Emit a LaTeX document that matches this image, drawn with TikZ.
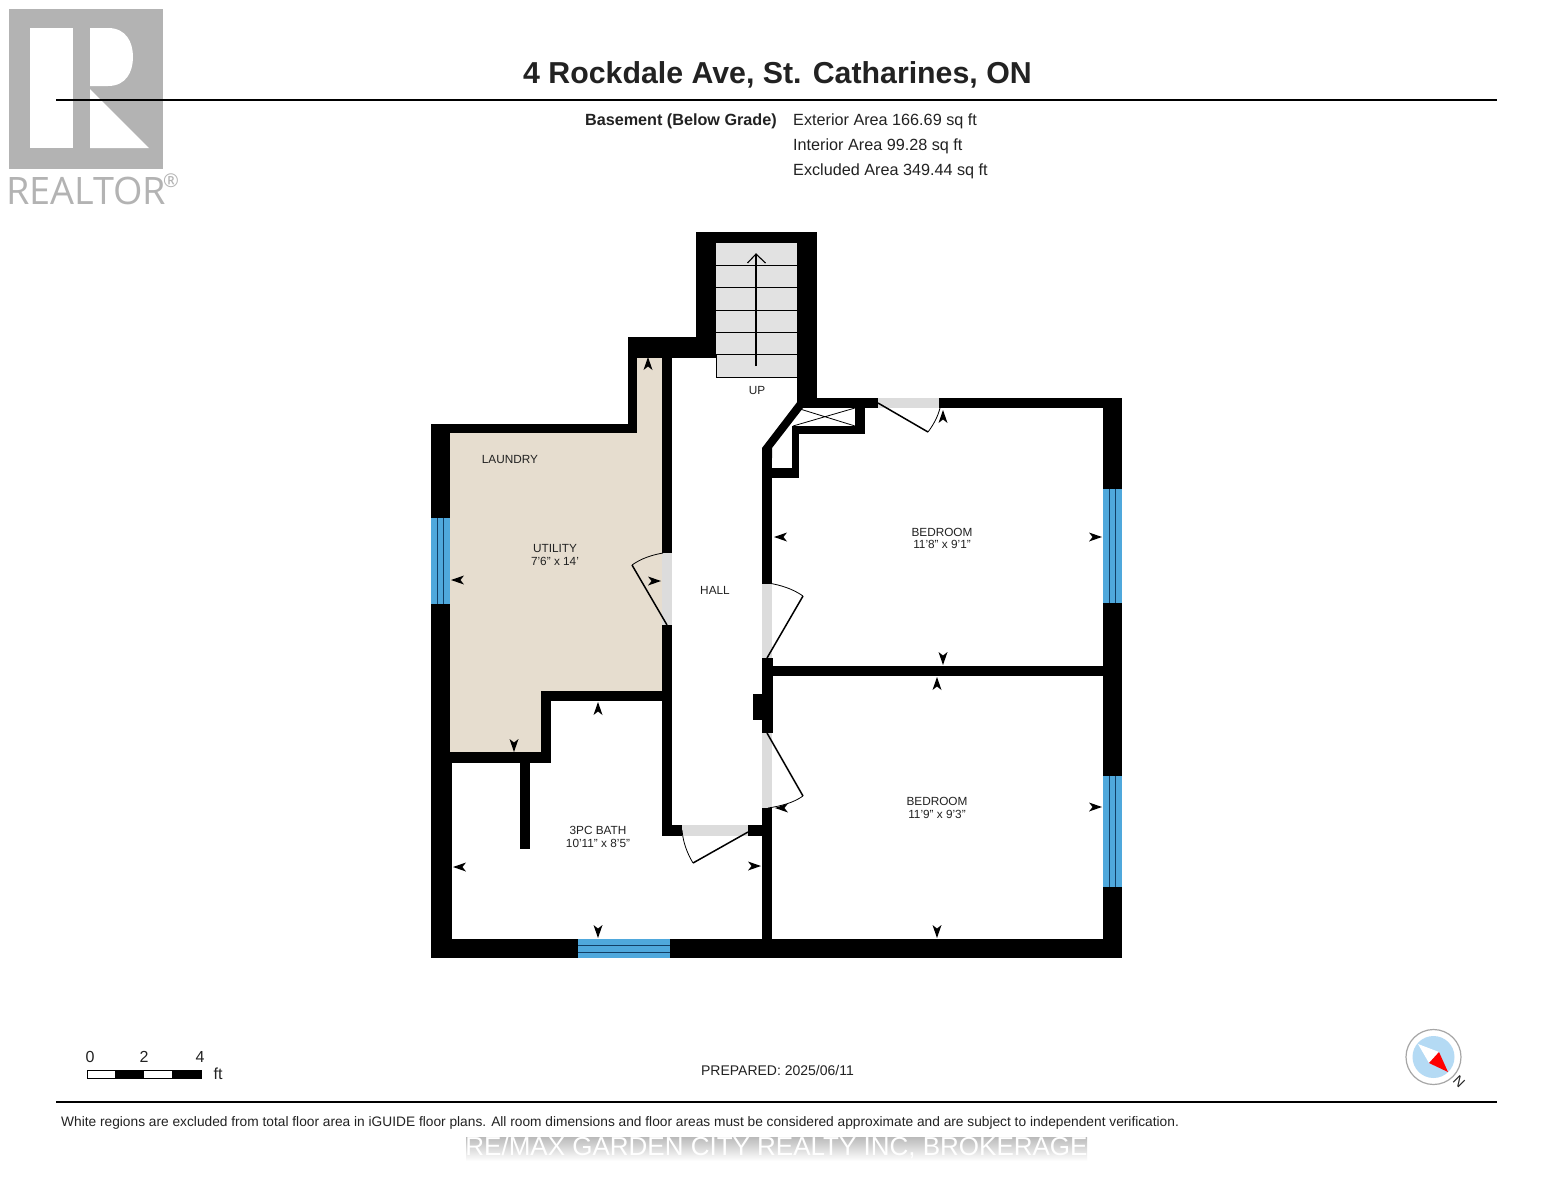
\documentclass[tikz,border=0pt]{standalone}
\usepackage{fontspec}
\setmainfont{Liberation Sans}
\newfontfamily\logofont{Open Sans}
\definecolor{beige}{HTML}{E6DDCF}
\definecolor{doorgray}{HTML}{DCDCDC}
\definecolor{stairgray}{HTML}{E2E2E2}
\definecolor{winblue}{HTML}{4FA8DC}
\definecolor{winline}{HTML}{123F66}
\definecolor{logogray}{HTML}{B3B3B3}
\definecolor{txt}{HTML}{222222}
\definecolor{compblue}{HTML}{B4DAF4}
\newcommand{\fs}[1]{\fontsize{#1}{#1}\selectfont}
\tikzset{
  wall/.style={fill=black,draw=none},
  door/.style={fill=doorgray,draw=none},
  win/.style={fill=winblue,draw=none},
  winl/.style={draw=winline,line width=0.9pt},
  leaf/.style={draw=black,line width=1.5pt},
  swing/.style={draw=black,line width=0.8pt},
  lab/.style={text=txt,inner sep=0pt,font=\fs{11.8}},
  hdr/.style={text=txt,inner sep=0pt,font=\fs{16.2},anchor=west},
  tipmark/.pic={\fill[black] (0,0) -- (-4.5,13) -- (0,9.5) -- (4.5,13) -- cycle;}
}
\begin{document}
\begin{tikzpicture}[x=1pt,y=-1pt]
\useasboundingbox (0,0) rectangle (1553,1200);
\fill[white] (0,0) rectangle (1553,1200);
% logo
\fill[logogray] (9,9) rectangle (163,169);
\fill[white] (30,28) rectangle (73,148);
\fill[white] (90,28) -- (108,28) .. controls (126,28) and (133,42) .. (133,57) .. controls (133,72) and (126,86) .. (108,86) -- (90,86) -- cycle;
\fill[white] (90,89) -- (149,148) -- (90,148) -- cycle;
\node[anchor=base west,inner sep=0pt,text=logogray,font=\logofont\fs{37.8}] (realtor) at (6,204) {REALTOR};
\node[inner sep=0pt,text=logogray,font=\logofont\fs{19}] (reg) at (171,181) {®};
% header
\node[inner sep=0pt,text=txt,font=\bfseries\fs{30.3}] (title) at (777.5,74.5) {4 Rockdale Ave, St. Catharines, ON};
\coordinate (hl) at (56,100); \coordinate (hr) at (1497,100);
\draw[black,line width=2.5pt] (hl) -- (hr);
\node[inner sep=0pt,anchor=east,text=txt,font=\bfseries\fs{16.2}] (base) at (777,121) {Basement (Below Grade)};
\node[hdr] (ext) at (793,121) {Exterior Area 166.69 sq ft};
\node[hdr] (int) at (793,146) {Interior Area 99.28 sq ft};
\node[hdr] (exc) at (793,171) {Excluded Area 349.44 sq ft};
% floor
\fill[beige] (450,433) -- (637,433) -- (637,356) -- (662,356) -- (662,691) -- (541,691) -- (541,752) -- (450,752) -- cycle;
\fill[stairgray] (716,243) rectangle (797,377);
\foreach \y in {265,287,310,332,354} \draw[black,line width=1pt] (716,\y) -- (797,\y);
\draw[black,line width=1pt] (716,354) -- (716,377) -- (797,377);
\draw[black,line width=1.1pt] (756,366) -- (756,254);
\draw[black,line width=1.1pt] (747.5,263) -- (756,254) -- (765.5,263);
% walls
\fill[wall] (431,424) rectangle (450,752);
\fill[wall] (431,752) rectangle (452,958);
\fill[wall] (431,424) rectangle (637,433);
\fill[wall] (628,337) rectangle (637,433);
\fill[wall] (628,337) rectangle (716,358);
\fill[wall] (696,232) rectangle (716,358);
\fill[wall] (696,232) rectangle (817,243);
\fill[wall] (797,232) rectangle (817,408);
\fill[wall] (797,398) rectangle (878,408);
\fill[wall] (939,398) rectangle (1122,408);
\fill[wall] (1103,398) rectangle (1122,958);
\fill[wall] (431,939) rectangle (1122,958);
\fill[wall] (798,401) -- (762,448) -- (762,458) -- (772,458) -- (772,448) -- (803,408) -- cycle;
\fill[wall] (855,408) rectangle (865,434);
\fill[wall] (792,426) rectangle (865,434);
\fill[wall] (792,426) rectangle (799,478);
\fill[wall] (772,468) rectangle (799,478);
\fill[wall] (762,448) rectangle (772,584);
\fill[wall] (762,658) rectangle (773,733);
\fill[wall] (753,694) rectangle (763,720);
\fill[wall] (762,808) rectangle (772,939);
\fill[wall] (772,666) rectangle (1103,676);
\fill[wall] (662,356) rectangle (672,553);
\fill[wall] (662,625) rectangle (672,836);
\fill[wall] (662,825) rectangle (682,836);
\fill[wall] (748,825) rectangle (762,836);
\fill[wall] (541,691) rectangle (662,701);
\fill[wall] (541,691) rectangle (551,763);
\fill[wall] (450,752) rectangle (551,763);
\fill[wall] (520,763) rectangle (530,849);
% closet X
\draw[black,line width=0.8pt] (800,409) -- (855,426) (855,408) -- (793,426);
% doors
\fill[door] (662,553) rectangle (672,625);
\fill[door] (762,584) rectangle (772,658);
\fill[door] (762,733) rectangle (772,808);
\fill[door] (682,825) rectangle (748,836);
\fill[door] (878,398) rectangle (939,408);
\draw[leaf] (667,625) -- (632,565);
\draw[swing] (632,565) .. controls (642,558) and (652,555) .. (663,553);
\draw[leaf] (767,658) -- (803,596);
\draw[swing] (803,596) .. controls (793,589) and (781,585) .. (768,583);
\draw[leaf] (767,733) -- (803,796);
\draw[swing] (803,796) .. controls (793,803) and (781,806) .. (768,808);
\draw[leaf] (748,832) -- (693,863);
\draw[swing] (693,863) .. controls (687,853) and (683,842) .. (682,830);
\draw[leaf] (878,403) -- (928,432);
\draw[swing] (928,432) .. controls (934,424) and (938,416) .. (940,408);
% windows
\fill[win] (431,518) rectangle (450,604);
\fill[win] (1103,489) rectangle (1122,603);
\fill[win] (1103,776) rectangle (1122,887);
\fill[win] (578,939) rectangle (670,958);
\draw[winl] (578,945) -- (670,945) (578,952) -- (670,952);
\draw[winl] (437,518) -- (437,604) (443,518) -- (443,604);
\draw[winl] (1109,489) -- (1109,603) (1115,489) -- (1115,603);
\draw[winl] (1109,776) -- (1109,887) (1115,776) -- (1115,887);
% dimension marks
\foreach \x/\y/\r in {648/357/0,943/410/0,937/677/0,598/702/0,
  943/665/180,937/938/180,598/938/180,514/752/180,
  774/537/90,453/867/90,451/580/90,775/808/90,
  1102/537/270,1102/807/270,761/866/270,661/581/270}
  \pic[rotate=\r] at (\x,\y) {tipmark};
% labels
\node[lab] (laundry) at (510,459) {LAUNDRY};
\node[lab] (util) at (555,548) {UTILITY};
\node[lab] (utild) at (555,561) {7'6" x 14'};
\node[lab] (hall) at (715,590) {HALL};
\node[lab] (up) at (757,390) {UP};
\node[lab] (bed1) at (942,532) {BEDROOM};
\node[lab] (bed1d) at (942,544.5) {11'8" x 9'1"};
\node[lab] (bed2) at (937,801) {BEDROOM};
\node[lab] (bed2d) at (937,814) {11'9" x 9'3"};
\node[lab] (bath) at (598,830) {3PC BATH};
\node[lab] (bathd) at (598,843) {10'11" x 8'5"};
% scale
\draw[black,line width=0.8pt,fill=white] (87,1070) rectangle (201,1078);
\fill[black] (115,1070) rectangle (144,1078);
\fill[black] (172,1070) rectangle (201,1078);
\node[inner sep=0pt,text=txt,font=\fs{16}] (s0) at (90,1057) {0};
\node[inner sep=0pt,text=txt,font=\fs{16}] (s2) at (144,1057) {2};
\node[inner sep=0pt,text=txt,font=\fs{16}] (s4) at (200,1057) {4};
\node[inner sep=0pt,text=txt,font=\fs{16}] (sft) at (218,1074) {ft};
\node[inner sep=0pt,text=txt,font=\fs{14}] (prep) at (777.5,1070) {PREPARED: 2025/06/11};
% compass
\fill[white] (1433.5,1057) circle (27.5);
\draw[black!35,line width=1.2pt] (1433.5,1057) circle (27.5);
\fill[compblue] (1433.5,1057) circle (21);
\fill[white] (1418,1044) -- (1439,1052) -- (1429,1063) -- cycle;
\fill[red] (1439,1052) -- (1448,1072) -- (1429,1063) -- cycle;
\node[inner sep=0pt,text=txt,rotate=-45,font=\fs{14}] (north) at (1459,1082) {N};
% footer
\coordinate (fl) at (56,1102); \coordinate (fr) at (1497,1102);
\draw[black,line width=2.5pt] (fl) -- (fr);
\node[inner sep=0pt,anchor=west,text=txt,font=\fs{13.73}] (foot) at (61,1122.5) {White regions are excluded from total floor area in iGUIDE floor plans. All room dimensions and floor areas must be considered approximate and are subject to independent verification.};
\shade[top color=black!27,bottom color=white,draw=none] (466,1137) rectangle (1087,1161);
\node[inner sep=0pt,text=white,font=\fs{26}] (wm) at (776.5,1148) {RE/MAX GARDEN CITY REALTY INC, BROKERAGE};
\end{tikzpicture}
\end{document}
